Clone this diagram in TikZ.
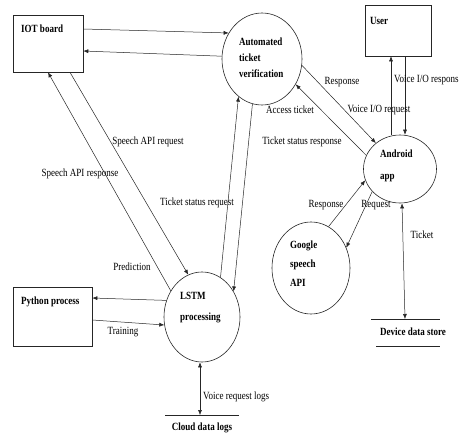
\documentclass[tikz,border=0pt]{standalone}
\usepackage{fontspec}
\setmainfont{Liberation Serif}[FakeStretch=0.82]
\usetikzlibrary{arrows.meta,shapes.geometric}
\begin{document}
\begin{tikzpicture}[x=1pt,y=-1pt,
  flow/.style={draw=black!85, line width=0.5pt, -{Latex[length=5pt,width=4pt]}},
  biflow/.style={draw=black!85, line width=0.5pt, {Latex[length=5pt,width=4pt]}-{Latex[length=5pt,width=4pt]}},
  entity/.style={draw=black!85, line width=0.6pt, inner sep=0},
  proc/.style={draw=black!85, ellipse, line width=0.6pt, inner sep=0},
  storeline/.style={draw=black!85, line width=0.6pt},
  lbl/.style={font=\fontsize{11}{13}\selectfont, inner sep=0},
  btxt/.style={font=\bfseries\fontsize{11}{13}\selectfont, inner sep=0, align=left, anchor=west}]
\fill[white] (0,0) rectangle (464,445);
\useasboundingbox (0,0) rectangle (464,445);

% external entities
\node[entity, minimum width=70pt, minimum height=57pt] (iot) at (48,43.5) {};
\node[entity, minimum width=66pt, minimum height=51pt] (user) at (398,30.5) {};
\node[entity, minimum width=79pt, minimum height=59pt] (python) at (52.5,316.5) {};
\node[btxt] (iott) at (21,29) {IOT board};
\node[btxt] (usert) at (370,21) {User};
\node[btxt] (pyt) at (21,302) {Python process};

% processes
\node[proc, minimum width=80pt, minimum height=92pt] (atv) at (262,59) {};
\node[proc, minimum width=76pt, minimum height=90pt] (lstm) at (202,317) {};
\node[proc, minimum width=78pt, minimum height=92pt] (google) at (311,268) {};
\node[proc, minimum width=73pt, minimum height=68pt] (android) at (400,169) {};
\node[btxt, font=\bfseries\fontsize{11}{16}\selectfont] (atvt) at (239,58) {Automated\\ticket\\verification};
\node[btxt, font=\bfseries\fontsize{11}{21}\selectfont] (lstmt) at (180,307.5) {LSTM\\processing};
\node[btxt, font=\bfseries\fontsize{11}{19}\selectfont] (googlet) at (290,264) {Google\\speech\\API};
\node[btxt, font=\bfseries\fontsize{11}{22}\selectfont] (androidt) at (380,166) {Android\\app};

% data stores
\coordinate (devl1) at (371,319); \coordinate (devr1) at (440,319);
\coordinate (devl2) at (376,346); \coordinate (devr2) at (440,346);
\draw[storeline] (devl1) -- (devr1);
\draw[storeline] (devl2) -- (devr2);
\node[btxt, anchor=center] (dev) at (413,332) {Device data store};
\coordinate (devtop) at (405,319);

\coordinate (cll) at (165,415); \coordinate (clr) at (239,415);
\draw[storeline] (cll) -- (clr);
\node[btxt, anchor=center] (cloud) at (202,428) {Cloud data logs};
\coordinate (cloudtop) at (200,415);

% connectors
\draw[flow] ([yshift=14.5pt]iot.east) -- (atv.142);
\draw[flow] (atv.176) -- ([yshift=-7.5pt]iot.east);
\draw[flow] ([xshift=22pt]iot.south) -- (lstm.108);
\draw[flow] (lstm.140) -- (iot.south);
\draw[flow] (lstm.155) -- ([yshift=18.5pt]python.east);
\draw[flow] ([yshift=-3.5pt]python.east) -- (lstm.192);
\draw[biflow] (lstm.south -| cloudtop) -- (cloudtop);
\draw[flow] (lstm.65) -- (atv.238);
\draw[flow] (atv.258) -- (lstm.39);
\draw[flow] (atv.351) -- (android.133);
\draw[flow] (android.158) -- (atv.323);
\draw[flow] ([xshift=-9pt]android.north) -- ([xshift=-7pt]user.south);
\draw[flow] ([xshift=7pt]user.south) -- ([xshift=5pt]android.north);
\draw[flow] (google.67) -- (android.198);
\draw[flow] (android.219) -- (google.30);
\draw[biflow] ([xshift=2pt]android.south) -- (devtop);

% labels
\node[lbl] (l1) at (148,142) {Speech API request};
\node[lbl] (l2) at (80,174) {Speech API response};
\node[lbl] (l3) at (197,203) {Ticket status request};
\node[lbl] (l4) at (132,267) {Prediction};
\node[lbl] (l5) at (123,332) {Training};
\node[lbl, anchor=west] (l6) at (203,397) {Voice request logs};
\node[lbl] (l7) at (342,82) {Response};
\node[lbl, anchor=west] (l8) at (394,80) {Voice I/O respons};
\node[lbl] (l9) at (379,110) {Voice I/O request};
\node[lbl] (l10) at (290,110) {Access ticket};
\node[lbl] (l11) at (302,142) {Ticket status response};
\node[lbl] (l12) at (326,205) {Response};
\node[lbl] (l13) at (376,205) {Request};
\node[lbl] (l14) at (422,235) {Ticket};
\end{tikzpicture}
\end{document}
